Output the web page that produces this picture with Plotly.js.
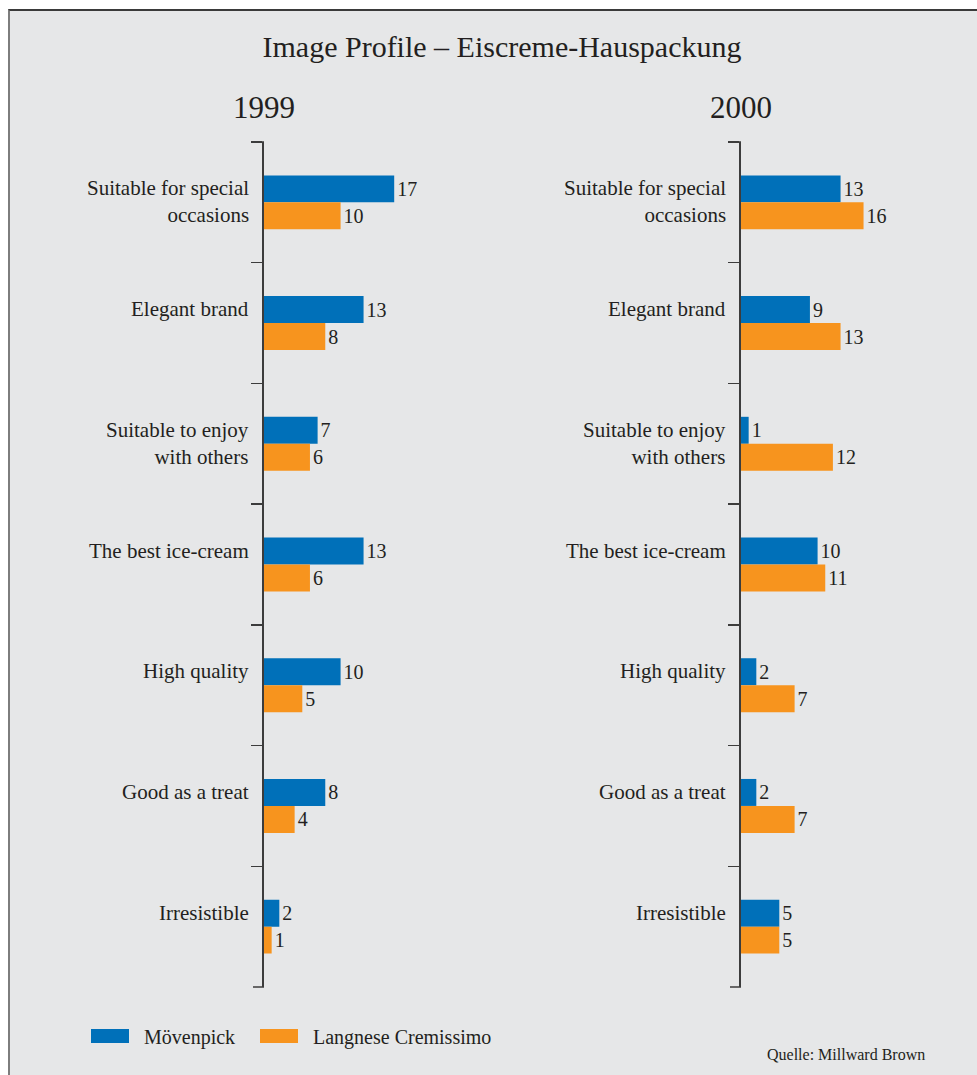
<!DOCTYPE html>
<html>
<head>
<meta charset="utf-8">
<script src="https://cdn.plot.ly/plotly-3.0.1.min.js"></script>
<style>
  html, body { margin: 0; padding: 0; background: #ffffff; }
  #frame {
    position: absolute; left: 8px; top: 9px;
    border-top: 2px solid #3a3a3a; border-left: 2px solid #7d7d7d;
  }
  #chart { width: 967px; height: 1064px; }
</style>
</head>
<body>
<div id="frame"><div id="chart"></div></div>
<script>
// Attributes (top to bottom)
const categories = [
  "Suitable for special occasions",
  "Elegant brand",
  "Suitable to enjoy with others",
  "The best ice-cream",
  "High quality",
  "Good as a treat",
  "Irresistible"
];
const categoryLabels = [
  "Suitable for special<br>occasions",
  "Elegant brand",
  "Suitable to enjoy<br>with others",
  "The best ice-cream",
  "High quality",
  "Good as a treat",
  "Irresistible"
];
const years = ["1999", "2000"];
const seriesNames = ["Mövenpick", "Langnese Cremissimo"];

const moevenpick1999 = [17, 13, 7, 13, 10, 8, 2];
const langnese1999   = [10, 8, 6, 6, 5, 4, 1];
const moevenpick2000 = [13, 9, 1, 10, 2, 2, 5];
const langnese2000   = [16, 13, 12, 11, 7, 7, 5];

const BLUE = "#0070b9";
const ORANGE = "#f7941e";
const INK = "#231f20";
const AXIS = "#3c3c3c";
const BG = "#e6e7e8";
const FONT = "Liberation Serif";

// Plot geometry
const W_TOTAL = 967, H_TOTAL = 1064;
const M = { l: 254, r: 67, t: 131, b: 88 };
const PW = W_TOTAL - M.l - M.r;
const PH = H_TOTAL - M.t - M.b;
const px2x = p => (p - M.l) / PW;
const px2y = p => 1 - (p - M.t) / PH;

const panelWidth = 168.5;
const rightStart = 731;
const domLeft = [0, px2x(M.l + panelWidth)];
const domRight = [px2x(rightStart), px2x(rightStart + panelWidth)];

function barTrace(values, name, color, xa, ya) {
  return {
    type: "bar",
    orientation: "h",
    name: name,
    x: values,
    y: categories,
    xaxis: xa,
    yaxis: ya,
    marker: { color: color, line: { width: 0 } },
    text: values.map(String),
    textposition: "outside",
    constraintext: "none",
    cliponaxis: false,
    textfont: { family: FONT, size: 20, color: INK },
    hoverinfo: "skip",
    showlegend: false
  };
}

const data = [
  barTrace(moevenpick1999, seriesNames[0], BLUE, "x", "y"),
  barTrace(langnese1999, seriesNames[1], ORANGE, "x", "y"),
  barTrace(moevenpick2000, seriesNames[0], BLUE, "x2", "y2"),
  barTrace(langnese2000, seriesNames[1], ORANGE, "x2", "y2")
];

function yAxis(anchor) {
  return {
    anchor: anchor,
    domain: [0, 1],
    type: "category",
    categoryorder: "array",
    categoryarray: categories,
    range: [6.5, -0.5],
    showline: true,
    linecolor: AXIS,
    linewidth: 2,
    ticks: "outside",
    tickson: "boundaries",
    ticklen: 11,
    tickwidth: 1.5,
    tickcolor: AXIS,
    showticklabels: false,
    showgrid: false,
    zeroline: false,
    fixedrange: true
  };
}
function xAxis(domain, anchor) {
  return {
    domain: domain,
    anchor: anchor,
    range: [0, 22],
    visible: false,
    fixedrange: true
  };
}

const annotations = [];
const shapes = [];
const panelStarts = [domLeft[0], domRight[0]];

["x", "x2"].forEach((xa, i) => {
  const ya = i === 0 ? "y" : "y2";
  // Category labels beside each panel
  categories.forEach((c, k) => {
    annotations.push({
      xref: xa, yref: ya, x: 0, y: c,
      xanchor: "right", yanchor: "top",
      xshift: -13, yshift: 28,
      align: "right",
      text: categoryLabels[k],
      showarrow: false,
      font: { family: FONT, size: 21, color: INK }
    });
  });
  // Closing ticks at the top and bottom ends of the axis
  [0, 1].forEach(v => {
    shapes.push({
      type: "line", xref: "paper", yref: "paper",
      xsizemode: "pixel", xanchor: panelStarts[i], x0: -11, x1: 0,
      y0: v, y1: v,
      line: { color: AXIS, width: 1.5 }
    });
  });
  // Year heading centred on the panel axis
  annotations.push({
    xref: xa, yref: "paper", x: 0, y: px2y(96),
    xanchor: "center", yanchor: "middle",
    text: years[i], showarrow: false,
    font: { family: FONT, size: 31, color: INK }
  });
});

// Legend (wide swatches) and source note
const legendItems = [
  { color: BLUE, x0: 81, x1: 119, tx: 132, name: seriesNames[0] },
  { color: ORANGE, x0: 250, x1: 288, tx: 301, name: seriesNames[1] }
];
legendItems.forEach(it => {
  shapes.push({
    type: "rect", xref: "paper", yref: "paper",
    x0: px2x(it.x0), x1: px2x(it.x1), y0: px2y(1032), y1: px2y(1018),
    fillcolor: it.color, line: { width: 0 }
  });
  annotations.push({
    xref: "paper", yref: "paper", x: px2x(it.tx), y: px2y(1026),
    xanchor: "left", yanchor: "middle",
    text: it.name, showarrow: false,
    font: { family: FONT, size: 20, color: INK }
  });
});
annotations.push({
  xref: "paper", yref: "paper", x: px2x(917), y: px2y(1043),
  xanchor: "right", yanchor: "middle",
  text: "Quelle: Millward Brown", showarrow: false,
  font: { family: FONT, size: 16, color: INK }
});

const layout = {
  width: W_TOTAL,
  height: H_TOTAL,
  margin: M,
  paper_bgcolor: BG,
  plot_bgcolor: BG,
  barmode: "group",
  bargap: 0.553,
  bargroupgap: 0,
  showlegend: false,
  title: {
    text: "Image Profile – Eiscreme-Hauspackung",
    x: 492 / W_TOTAL, xanchor: "center",
    y: 1 - 35 / H_TOTAL, yanchor: "middle",
    xref: "container", yref: "container",
    font: { family: FONT, size: 30, color: INK }
  },
  xaxis: xAxis(domLeft, "y"),
  yaxis: yAxis("x"),
  xaxis2: xAxis(domRight, "y2"),
  yaxis2: yAxis("x2"),
  annotations: annotations,
  shapes: shapes
};

Plotly.newPlot("chart", data, layout, { displayModeBar: false, staticPlot: true });
</script>
</body>
</html>
